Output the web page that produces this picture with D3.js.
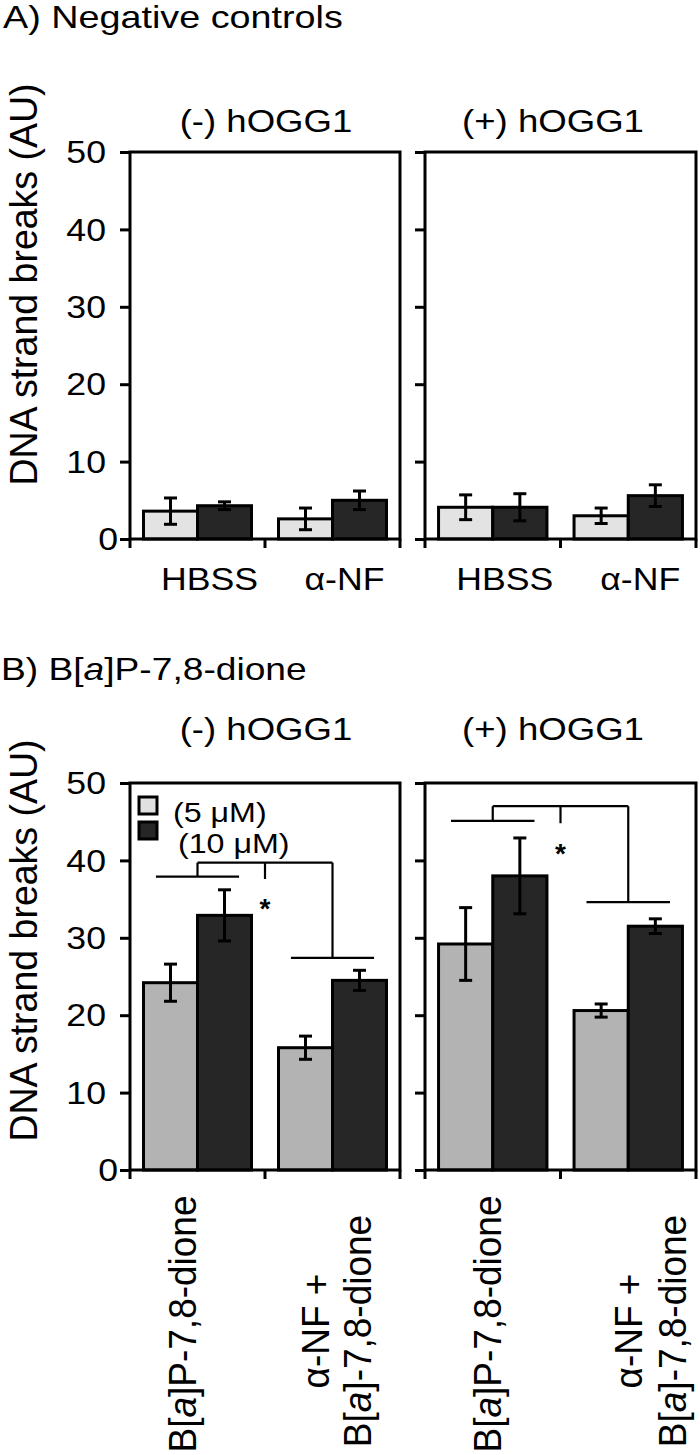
<!DOCTYPE html>
<html>
<head>
<meta charset="utf-8">
<script src="https://cdn.jsdelivr.net/npm/d3@7"></script>
<style>
  html, body { margin: 0; padding: 0; background: #fff; }
  svg { display: block; }
</style>
</head>
<body>
<svg id="chart" width="700" height="1455"></svg>
<script>
// ---------------- data ----------------
const yTicks = [0, 10, 20, 30, 40, 50];
const seriesNames = ["(5 μM)", "(10 μM)"];
const enzymeTitles = ["(-) hOGG1", "(+) hOGG1"];
const categoriesA = ["HBSS", "α-NF"];
const categoriesB = ["B[a]P-7,8-dione", "α-NF + B[a]-7,8-dione"];

// Panel A (negative controls)
const negA_low = [3.6, 2.6],  negA_lowErr = [1.7, 1.4];
const negA_high = [4.3, 5.0], negA_highErr = [0.5, 1.2];
const posA_low = [4.1, 3.0],  posA_lowErr = [1.6, 1.0];
const posA_high = [4.1, 5.6], posA_highErr = [1.75, 1.4];

// Panel B (B[a]P-7,8-dione)
const negB_low = [24.2, 15.8], negB_lowErr = [2.4, 1.5];
const negB_high = [32.9, 24.5], negB_highErr = [3.3, 1.3];
const posB_low = [29.2, 20.6], posB_lowErr = [4.7, 0.85];
const posB_high = [38.0, 31.5], posB_highErr = [4.9, 0.95];

// significance brackets (values in AU) for (-) and (+) hOGG1
const sigLeft = [37.9, 45.1];
const sigTop = [39.7, 47.0];
const sigRight = [27.4, 34.6];
const sigTickEnd = [37.6, 44.8];
const sigStar = [34.6, 41.7];

// ---------------- helpers ----------------
const FONT = "'Liberation Sans', Arial, Helvetica, sans-serif";
const svg = d3.select("#chart");

function label(parent, x, y, parts, o) {
  const sx = o.sx || 1;
  const g = parent.append("g")
    .attr("transform", `translate(${x},${y}) scale(${sx},1)` + (o.rot ? ` rotate(${o.rot})` : ""));
  const t = g.append("text")
    .attr("font-family", FONT)
    .attr("font-size", o.size)
    .attr("font-weight", o.weight || "normal")
    .attr("text-anchor", o.anchor || "start")
    .attr("fill", "#000");
  if (o.dy) t.attr("dy", o.dy);
  const arr = Array.isArray(parts) ? parts : [[parts, false]];
  arr.forEach(([s, it]) => {
    const ts = t.append("tspan").text(s);
    if (it) ts.attr("font-style", "italic");
  });
  return t;
}

// B[a] with italic a
function bap(str) {
  const i = str.indexOf("[a]");
  if (i < 0) return [[str, false]];
  return [[str.slice(0, i + 1), false], ["a", true], [str.slice(i + 2), false]];
}

const plotX = [[130, 400], [425, 696]];
const panels = [
  { y0: 539, y50: 152, cats: categoriesA,
    colors: ["#e3e3e3", "#262626"],
    data: [
      { low: negA_low, lowErr: negA_lowErr, high: negA_high, highErr: negA_highErr },
      { low: posA_low, lowErr: posA_lowErr, high: posA_high, highErr: posA_highErr }
    ],
    titleY: 132, yTitleCenter: 284.5 },
  { y0: 1170, y50: 783, cats: categoriesB,
    colors: ["#b3b3b3", "#262626"],
    data: [
      { low: negB_low, lowErr: negB_lowErr, high: negB_high, highErr: negB_highErr },
      { low: posB_low, lowErr: posB_lowErr, high: posB_high, highErr: posB_highErr }
    ],
    titleY: 740, yTitleCenter: 940.5 }
];

// panel headers
label(svg, 3, 28, "A) Negative controls", { size: 32, sx: 1.18 });
label(svg, 1, 680, [["B) B[", false], ["a", true], ["]P-7,8-dione", false]], { size: 31.5, sx: 1.18 });

const titleCenters = [266, 553];

panels.forEach((P, pi) => {
  const y = d3.scaleLinear().domain([0, 50]).range([P.y0, P.y50]);

  // y axis title
  label(svg, 37, P.yTitleCenter, "DNA strand breaks (AU)",
        { size: 37.5, sx: 1.05, rot: -90, anchor: "middle" });

  plotX.forEach(([x0, x1], k) => {
    const g = svg.append("g");
    const xBand = d3.scaleBand().domain(P.cats).range([x0, x1])
      .paddingInner(0.2).paddingOuter(0.1);
    const xSub = d3.scaleBand().domain(seriesNames).range([0, xBand.bandwidth()]);
    const d = P.data[k];

    // subplot title
    label(g, titleCenters[k], P.titleY, enzymeTitles[k], { size: 31, sx: 1.18, anchor: "middle" });

    // bars
    P.cats.forEach((c, ci) => {
      const vals = [[d.low[ci], d.lowErr[ci]], [d.high[ci], d.highErr[ci]]];
      vals.forEach(([v, e], si) => {
        const bx = xBand(c) + xSub(seriesNames[si]);
        const bw = xSub.bandwidth();
        g.append("rect")
          .attr("x", bx).attr("y", y(v))
          .attr("width", bw).attr("height", y(0) - y(v))
          .attr("fill", P.colors[si]).attr("stroke", "#000").attr("stroke-width", 3);
        const cx = bx + bw / 2;
        g.append("line").attr("x1", cx).attr("x2", cx)
          .attr("y1", y(v - e)).attr("y2", y(v + e))
          .attr("stroke", "#000").attr("stroke-width", 3);
        [v - e, v + e].forEach(ev => {
          g.append("line").attr("x1", cx - 6.5).attr("x2", cx + 6.5)
            .attr("y1", y(ev)).attr("y2", y(ev))
            .attr("stroke", "#000").attr("stroke-width", 3);
        });
      });
    });

    // frame
    g.append("rect").attr("x", x0).attr("y", y(50))
      .attr("width", x1 - x0).attr("height", y(0) - y(50))
      .attr("fill", "none").attr("stroke", "#000").attr("stroke-width", 3);

    // left ticks
    const ax = g.append("g").attr("transform", `translate(${x0},0)`)
      .call(d3.axisLeft(y).tickValues(yTicks).tickSize(10).tickFormat(""));
    ax.select(".domain").remove();
    ax.selectAll(".tick line").attr("stroke", "#000").attr("stroke-width", 3);

    // bottom ticks at band boundaries
    const step = (x1 - x0) / P.cats.length;
    d3.range(P.cats.length + 1).forEach(i => {
      const bx = x0 + i * step;
      g.append("line").attr("x1", bx).attr("x2", bx)
        .attr("y1", y(0)).attr("y2", y(0) + 9)
        .attr("stroke", "#000").attr("stroke-width", 3);
    });

    // tick labels (left subplot only)
    if (k === 0) {
      yTicks.forEach(t => {
        label(g, t === 0 ? x0 - 12 : x0 - 24, y(t), String(t),
              { size: 31, sx: 1.15, anchor: "end", dy: "0.36em" });
      });
    }

    // category labels
    if (pi === 0) {
      P.cats.forEach(c => {
        label(g, xBand(c) + xBand.bandwidth() / 2 + 12, 590, c,
              { size: 31, sx: 1.15, anchor: "middle" });
      });
    } else {
      const offs = k === 0 ? { c1: -1.5, l1: -3.5, l2: 38.5 } : { c1: 8, l1: 14, l2: 58 };
      const c1x = xBand(P.cats[0]) + xBand.bandwidth() / 2;
      const c2x = xBand(P.cats[1]) + xBand.bandwidth() / 2;
      label(g, c1x + offs.c1, 1324, bap(P.cats[0]),
            { size: 37, sx: 1.05, rot: -90, anchor: "middle" });
      const parts = P.cats[1].split(" + ");
      label(g, c2x + offs.l1, 1331, parts[0] + " +",
            { size: 37, sx: 1.05, rot: -90, anchor: "middle" });
      label(g, c2x + offs.l2, 1331, bap(parts[1]),
            { size: 37, sx: 1.05, rot: -90, anchor: "middle" });

      // significance bracket
      const gc1 = c1x, gc2 = c2x;
      const half = xBand.bandwidth() * 0.385;
      const mid = x0 + step;
      const bs = g.append("g").attr("stroke", "#000").attr("stroke-width", 2.2).attr("fill", "none");
      const seg = (xa, ya, xb, yb) => bs.append("line")
        .attr("x1", xa).attr("y1", ya).attr("x2", xb).attr("y2", yb);
      seg(gc1 - half, y(sigLeft[k]), gc1 + half, y(sigLeft[k]));
      seg(gc1, y(sigLeft[k]), gc1, y(sigTop[k]));
      seg(gc1, y(sigTop[k]), gc2, y(sigTop[k]));
      seg(mid, y(sigTop[k]), mid, y(sigTickEnd[k]));
      seg(gc2, y(sigTop[k]), gc2, y(sigRight[k]));
      seg(gc2 - half, y(sigRight[k]), gc2 + half, y(sigRight[k]));
      label(g, mid, y(sigStar[k]) + 16, "*", { size: 28, weight: "bold", anchor: "middle" });

      // legend
      if (k === 0) {
        const lg = g.append("g");
        const sw = [[139, 797], [139, 822]];
        const tx = [[173, 822], [178, 853]];
        seriesNames.forEach((s, si) => {
          lg.append("rect").attr("x", sw[si][0]).attr("y", sw[si][1])
            .attr("width", 18).attr("height", 17)
            .attr("fill", si === 0 ? "#e0e0e0" : "#262626")
            .attr("stroke", "#000").attr("stroke-width", 3);
          label(lg, tx[si][0], tx[si][1], s, { size: 28, sx: 1.15 });
        });
      }
    }
  });
});
</script>
</body>
</html>
